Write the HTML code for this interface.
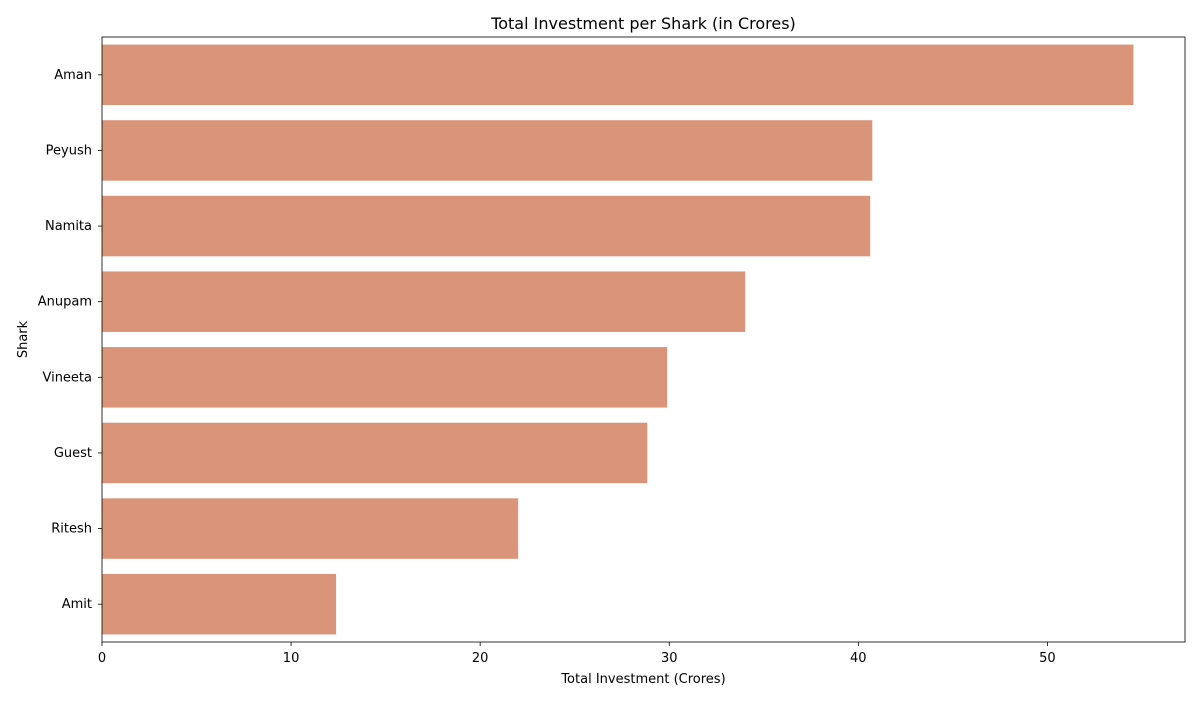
<!DOCTYPE html>
<html><head><meta charset="utf-8"><style>
html,body{margin:0;padding:0;background:#fff;}
svg text{font-family:"DejaVu Sans","Liberation Sans",sans-serif;fill:#000;}
</style></head><body>
<svg id="chart" width="1200" height="700" xmlns="http://www.w3.org/2000/svg"></svg>
<script>
const categories = ["Aman","Peyush","Namita","Anupam","Vineeta","Guest","Ritesh","Amit"];
const values = [54.55, 40.74, 40.63, 34.02, 29.89, 28.84, 22.01, 12.38];
const xTicks = [0,10,20,30,40,50];

const svg = document.getElementById('chart');
const NS = "http://www.w3.org/2000/svg";
const L = 102, R = 1185, T = 37, B = 642;
const xMax = Math.max(...values) * 1.05;
const x = v => L + v / xMax * (R - L);
const band = (B - T) / categories.length;
const y = i => T + i * band;

function mk(tag, attrs, text) {
  const e = document.createElementNS(NS, tag);
  for (const k in attrs) e.setAttribute(k, attrs[k]);
  if (text !== undefined) e.textContent = text;
  svg.appendChild(e);
  return e;
}

categories.forEach((c, i) => {
  const r = mk('rect', {x: x(0), y: y(i) + band * 0.1, width: x(values[i]) - x(0), height: band * 0.8, fill: '#DA9479'});
  
  
  const cy = y(i) + band / 2;
  const tk = mk('line', {x1: L - 4, x2: L, y1: cy, y2: cy, stroke: '#000', 'stroke-width': 0.8});
  
  
  const t = mk('text', {x: L - 10, y: cy + 4, 'text-anchor': 'end', 'font-size': 13}, c);
  
  
});

xTicks.forEach(v => {
  const tk = mk('line', {x1: x(v), x2: x(v), y1: B, y2: B + 4, stroke: '#000', 'stroke-width': 0.8});
  
  
  const t = mk('text', {x: x(v), y: B + 20, 'text-anchor': 'middle', 'font-size': 13}, String(v));
  
  
});

const frame = mk('rect', {x: L, y: T, width: R - L, height: B - T, fill: 'none', stroke: '#000', 'stroke-width': 0.8});



const title = mk('text', {x: (L + R) / 2, y: 29, 'text-anchor': 'middle', 'font-size': 16}, 'Total Investment per Shark (in Crores)');



const xt = mk('text', {x: (L + R) / 2, y: 683, 'text-anchor': 'middle', 'font-size': 13}, 'Total Investment (Crores)');



const yt = mk('text', {x: 27, y: (T + B) / 2, 'text-anchor': 'middle', 'font-size': 13, transform: 'rotate(-90 27 ' + ((T + B) / 2) + ')'}, 'Shark');


</script>
</body></html>
